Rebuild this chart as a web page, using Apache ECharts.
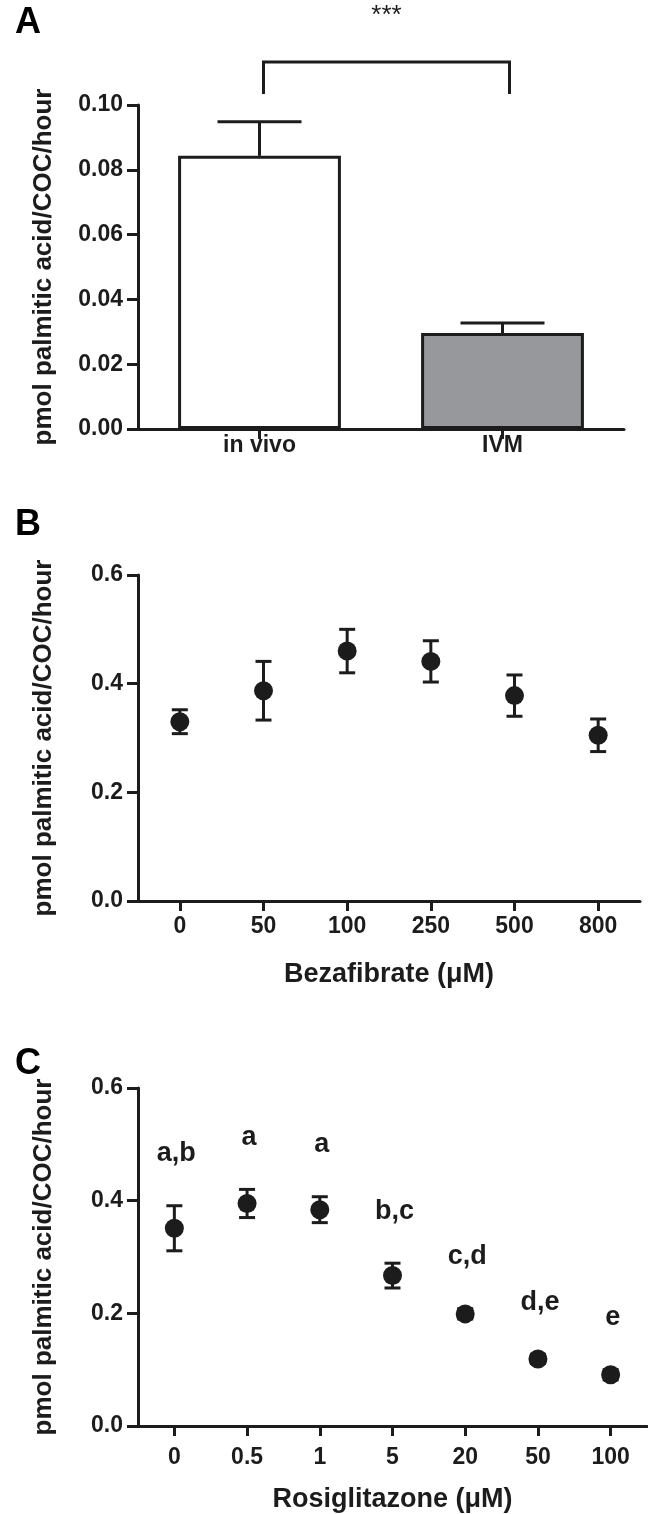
<!DOCTYPE html>
<html>
<head>
<meta charset="utf-8">
<script src="https://cdn.jsdelivr.net/npm/echarts@6/dist/echarts.min.js"></script>
<style>
html,body{margin:0;padding:0;background:#fff;}
#chart{width:648px;height:1514px;}
</style>
</head>
<body>
<div id="chart"></div>
<script>
// ---- Panel A data ----
const aCategories = ['in vivo', 'IVM'];
const aMean = [0.0843, 0.0296];
const aErr = [0.0105, 0.0031];
const aColors = ['#ffffff', '#97989c'];
const aTicks = [0, 0.02, 0.04, 0.06, 0.08, 0.10];
const aSignif = '***';

// ---- Panel B data ----
const bCategories = ['0', '50', '100', '250', '500', '800'];
const bMean = [0.330, 0.387, 0.460, 0.441, 0.378, 0.305];
const bErr = [0.022, 0.054, 0.040, 0.038, 0.038, 0.030];
const bTicks = [0, 0.2, 0.4, 0.6];

// ---- Panel C data ----
const cCategories = ['0', '0.5', '1', '5', '20', '50', '100'];
const cMean = [0.351, 0.395, 0.384, 0.267, 0.199, 0.119, 0.091];
const cErr = [0.040, 0.025, 0.023, 0.022, 0.009, 0.008, 0.009];
const cLetters = ['a,b', 'a', 'a', 'b,c', 'c,d', 'd,e', 'e'];
const cTicks = [0, 0.2, 0.4, 0.6];

const yName = 'pmol palmitic acid/COC/hour';
const bXName = 'Bezafibrate (\u03bcM)';
const cXName = 'Rosiglitazone (\u03bcM)';

const FONT = '"Liberation Sans", Arial, Helvetica, sans-serif';
const INK = '#1c1c1c';

function yAxisCfg(grid, max, interval, decimals) {
  return {
    type: 'value', gridIndex: grid, min: 0, max: max, interval: interval,
    name: yName, nameLocation: 'middle', nameGap: 81,
    nameTextStyle: {fontFamily: FONT, fontWeight: 'bold', fontSize: 26, color: INK},
    axisLine: {show: true, lineStyle: {color: INK, width: 3}},
    axisTick: {show: true, length: 11, lineStyle: {color: INK, width: 3}},
    axisLabel: {margin: 15, fontFamily: FONT, fontWeight: 'bold', fontSize: 23, color: INK,
      formatter: v => v.toFixed(decimals)},
    splitLine: {show: false}
  };
}
function xAxisCfg(grid, cats, name, margin, nameGap) {
  return {
    type: 'category', gridIndex: grid, data: cats, boundaryGap: true,
    name: name || '', nameLocation: 'middle', nameGap: nameGap || 0,
    nameTextStyle: {fontFamily: FONT, fontWeight: 'bold', fontSize: 27, color: INK},
    axisLine: {show: true, onZero: false, lineStyle: {color: INK, width: 3}},
    axisTick: {show: true, alignWithLabel: true, length: 10, lineStyle: {color: INK, width: 3}},
    axisLabel: {margin: margin, fontFamily: FONT, fontWeight: 'bold', fontSize: 23, color: INK},
    splitLine: {show: false}
  };
}

function errRender(meanArr, errArr, capHalf, upperOnly) {
  return function (params, api) {
    const i = api.value(0);
    const m = meanArr[i], e = errArr[i];
    const top = api.coord([i, m + e]);
    const bot = api.coord([i, upperOnly ? m : m - e]);
    const x = top[0];
    const children = [
      {type: 'line', shape: {x1: x, y1: top[1], x2: x, y2: bot[1]}, style: {stroke: INK, lineWidth: 3}},
      {type: 'line', shape: {x1: x - capHalf, y1: top[1], x2: x + capHalf, y2: top[1]}, style: {stroke: INK, lineWidth: 3}}
    ];
    if (!upperOnly) {
      children.push({type: 'line', shape: {x1: x - capHalf, y1: bot[1], x2: x + capHalf, y2: bot[1]}, style: {stroke: INK, lineWidth: 3}});
    }
    return {type: 'group', children: children};
  };
}

const chart = echarts.init(document.getElementById('chart'), null, {renderer: 'canvas'});

const option = {
  backgroundColor: '#ffffff',
  animation: false,
  title: [
    {text: 'A', left: 10, top: 0, textStyle: {fontFamily: FONT, fontWeight: 'bold', fontSize: 36, color: '#000'}},
    {text: 'B', left: 10, top: 502, textStyle: {fontFamily: FONT, fontWeight: 'bold', fontSize: 36, color: '#000'}},
    {text: 'C', left: 10, top: 1041, textStyle: {fontFamily: FONT, fontWeight: 'bold', fontSize: 36, color: '#000'}}
  ],
  grid: [
    {left: 138, right: 24, top: 105, height: 324},
    {left: 138, right: 8, top: 575, height: 326},
    {left: 138, right: 1, top: 1088, height: 340}
  ],
  xAxis: [
    xAxisCfg(0, aCategories, '', 5, 0),
    xAxisCfg(1, bCategories, bXName, 14, 60),
    xAxisCfg(2, cCategories, cXName, 20, 60)
  ],
  yAxis: [
    yAxisCfg(0, aTicks[aTicks.length - 1], aTicks[1] - aTicks[0], 2),
    yAxisCfg(1, bTicks[bTicks.length - 1], bTicks[1] - bTicks[0], 1),
    yAxisCfg(2, cTicks[cTicks.length - 1], cTicks[1] - cTicks[0], 1)
  ],
  series: [
    {
      type: 'bar', xAxisIndex: 0, yAxisIndex: 0, barWidth: '67%',
      data: aMean.map((v, i) => ({value: v, itemStyle: {color: aColors[i], borderColor: INK, borderWidth: 3}})),
      z: 2
    },
    {
      type: 'custom', xAxisIndex: 0, yAxisIndex: 0, z: 1,
      data: aMean.map((v, i) => [i, v]),
      renderItem: errRender(aMean, aErr, 42, true)
    },
    {
      // significance bracket
      type: 'custom', xAxisIndex: 0, yAxisIndex: 0, clip: false,
      data: [[0, aTicks[aTicks.length - 1]]],
      renderItem: function (params, api) {
        const l = api.coord([0, api.value(1)]);
        const r = api.coord([1, api.value(1)]);
        const topY = l[1] - 43, endY = l[1] - 11;
        const xl = l[0] + 4, xr = r[0] + 7;
        return {type: 'group', children: [
          {type: 'polyline', shape: {points: [[xl, endY], [xl, topY], [xr, topY], [xr, endY]]},
            style: {stroke: INK, lineWidth: 3, fill: 'none'}},
          {type: 'text', style: {text: aSignif, x: (xl + xr) / 2, y: topY - 46, textAlign: 'center', textVerticalAlign: 'middle',
            font: '26px ' + FONT, fill: INK}}
        ]};
      }
    },
    {
      type: 'custom', xAxisIndex: 1, yAxisIndex: 1, z: 4,
      data: bMean.map((v, i) => [i, v]),
      renderItem: errRender(bMean, bErr, 8, false)
    },
    {
      type: 'scatter', xAxisIndex: 1, yAxisIndex: 1, symbol: 'circle', symbolSize: 19,
      itemStyle: {color: INK, opacity: 1}, data: bMean.map((v, i) => [i, v]), z: 3
    },
    {
      type: 'custom', xAxisIndex: 2, yAxisIndex: 2, z: 4,
      data: cMean.map((v, i) => [i, v]),
      renderItem: errRender(cMean, cErr, 8, false)
    },
    {
      type: 'scatter', xAxisIndex: 2, yAxisIndex: 2, symbol: 'circle', symbolSize: 19,
      itemStyle: {color: INK, opacity: 1}, data: cMean.map((v, i) => [i, v]), z: 3
    },
    {
      // significance letters above each error bar
      type: 'custom', xAxisIndex: 2, yAxisIndex: 2, clip: false,
      data: cMean.map((v, i) => [i, v]),
      renderItem: function (params, api) {
        const i = api.value(0);
        const p = api.coord([i, cMean[i] + cErr[i]]);
        return {type: 'text', style: {text: cLetters[i], x: p[0] + 2, y: p[1] - 52, textAlign: 'center', textVerticalAlign: 'middle',
          font: 'bold 27px ' + FONT, fill: INK}};
      }
    }
  ]
};
chart.setOption(option);
</script>
</body>
</html>
